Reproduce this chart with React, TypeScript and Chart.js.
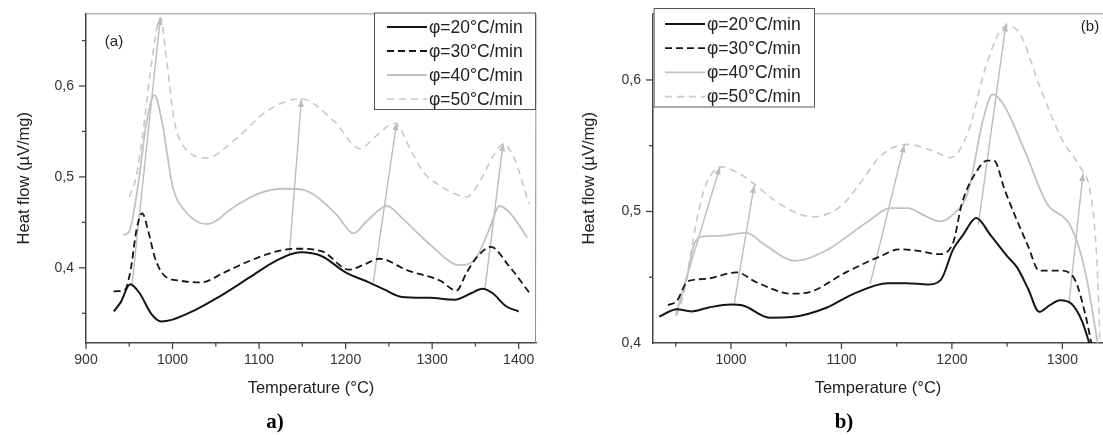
import React, { useEffect, useRef } from "react";
import { Chart, registerables } from "chart.js";

Chart.register(...registerables);

const FONT = "'Liberation Sans', Arial, Helvetica, sans-serif";

const seriesLabels = ["φ=20°C/min", "φ=30°C/min", "φ=40°C/min", "φ=50°C/min"];
const seriesColors = ["#151515", "#151515", "#c2c2c2", "#c8c8c8"];
const seriesDash: number[][] = [[], [7, 4], [], [7, 5]];
const seriesWidth = [2, 1.8, 1.8, 1.6];
const arrowColor = "#bcbcbc";

// ---------- Panel (a) ----------
const tA20 = [932, 940, 951, 962, 975, 987, 1000, 1025, 1050, 1090, 1120, 1148, 1172, 1200, 1227, 1245, 1265, 1297, 1326, 1345, 1358, 1370, 1385, 1400];
const vA20 = [0.352, 0.362, 0.382, 0.372, 0.35, 0.341, 0.343, 0.353, 0.366, 0.39, 0.408, 0.417, 0.413, 0.395, 0.384, 0.376, 0.368, 0.367, 0.365, 0.372, 0.377, 0.372, 0.358, 0.352];

const tA30 = [932, 945, 952, 958, 965, 972, 980, 990, 1008, 1033, 1060, 1090, 1120, 1145, 1173, 1204, 1220, 1239, 1272, 1309, 1328, 1340, 1352, 1368, 1388, 1412];
const vA30 = [0.374, 0.376, 0.4, 0.44, 0.46, 0.44, 0.41, 0.392, 0.386, 0.384, 0.395, 0.408, 0.418, 0.421, 0.418, 0.398, 0.403, 0.41, 0.397, 0.386, 0.375, 0.395, 0.412, 0.423, 0.403, 0.373];

const tA40 = [943, 950, 960, 970, 979, 988, 1000, 1015, 1040, 1071, 1100, 1129, 1150, 1167, 1190, 1209, 1225, 1248, 1265, 1297, 1332, 1350, 1365, 1378, 1392, 1410];
const vA40 = [0.436, 0.44, 0.49, 0.56, 0.59, 0.56, 0.49, 0.462, 0.448, 0.467, 0.482, 0.487, 0.486, 0.478, 0.458, 0.438, 0.452, 0.468, 0.455, 0.426, 0.403, 0.41, 0.44, 0.468, 0.458, 0.433];

const tA50 = [950, 958, 966, 975, 986, 993, 1002, 1017, 1040, 1071, 1110, 1148, 1186, 1217, 1235, 1257, 1275, 1290, 1310, 1325, 1340, 1355, 1370, 1382, 1395, 1412];
const vA50 = [0.478, 0.5, 0.55, 0.62, 0.675, 0.63, 0.562, 0.529, 0.521, 0.54, 0.573, 0.586, 0.562, 0.531, 0.545, 0.559, 0.53, 0.505, 0.49, 0.482, 0.478, 0.495, 0.522, 0.536, 0.52, 0.47];

const arrowA_t0 = [953, 1135, 1232, 1361];
const arrowA_v0 = [0.38, 0.415, 0.384, 0.377];
const arrowA_t1 = [986, 1149, 1259, 1382];
const arrowA_v1 = [0.676, 0.586, 0.56, 0.537];

// ---------- Panel (b) ----------
const tB20 = [935, 951, 964, 980, 1000, 1010, 1035, 1055, 1087, 1110, 1142, 1159, 1178, 1190, 1201, 1210, 1222, 1235, 1250, 1259, 1269, 1279, 1289, 1298, 1308, 1318, 1324, 1328];
const vB20 = [0.42, 0.4257, 0.424, 0.427, 0.4292, 0.4287, 0.4192, 0.4197, 0.427, 0.437, 0.4455, 0.4455, 0.4445, 0.448, 0.471, 0.482, 0.495, 0.482, 0.466, 0.4575, 0.4412, 0.4237, 0.429, 0.4325, 0.43, 0.4163, 0.401, 0.39];

const tB30 = [943, 951, 961, 977, 1005, 1023, 1055, 1071, 1104, 1136, 1152, 1170, 1188, 1201, 1209, 1222, 1232, 1238, 1248, 1258, 1269, 1279, 1298, 1311, 1321, 1326, 1330];
const vB30 = [0.4287, 0.432, 0.447, 0.4487, 0.4537, 0.4462, 0.4375, 0.4387, 0.4537, 0.4662, 0.4712, 0.47, 0.4675, 0.476, 0.506, 0.53, 0.5387, 0.5387, 0.516, 0.495, 0.4737, 0.455, 0.455, 0.4487, 0.421, 0.401, 0.385];

const tB40 = [950, 960, 967, 975, 990, 1014, 1030, 1058, 1088, 1105, 1125, 1144, 1160, 1175, 1189, 1200, 1215, 1228, 1237, 1247, 1267, 1286, 1306, 1316, 1323, 1329, 1333];
const vB40 = [0.421, 0.45, 0.476, 0.481, 0.4815, 0.4837, 0.475, 0.4625, 0.4712, 0.481, 0.493, 0.5025, 0.5025, 0.497, 0.4925, 0.497, 0.516, 0.569, 0.589, 0.581, 0.544, 0.506, 0.491, 0.47, 0.445, 0.415, 0.395];

const tB50 = [951, 958, 966, 975, 983, 991, 1005, 1021, 1037, 1054, 1073, 1090, 1102, 1120, 1134, 1148, 1160, 1183, 1199, 1215, 1231, 1249, 1261, 1280, 1299, 1316, 1324, 1329, 1332, 1334];
const vB50 = [0.421, 0.44, 0.48, 0.515, 0.529, 0.534, 0.53, 0.521, 0.51, 0.501, 0.496, 0.499, 0.506, 0.525, 0.541, 0.549, 0.551, 0.546, 0.541, 0.561, 0.611, 0.641, 0.636, 0.594, 0.556, 0.534, 0.52, 0.49, 0.45, 0.4];

const arrowB_t0 = [951, 1003, 1126, 1224, 1306];
const arrowB_v0 = [0.425, 0.43, 0.445, 0.49, 0.43];
const arrowB_t1 = [990, 1021, 1157, 1249, 1318.7];
const arrowB_v1 = [0.534, 0.52, 0.551, 0.643, 0.529];

const xTitle = "Temperature (°C)";
const yTitle = "Heat flow (µV/mg)";

const decorPlugin = {
  id: "decor",
  afterDraw(chart: any) {
    const o = chart.options.plugins.decor;
    const { ctx, chartArea: ca, scales } = chart;
    ctx.save();
    // top/right frame
    ctx.strokeStyle = "#8c8c8c";
    ctx.lineWidth = 1;
    ctx.beginPath();
    ctx.moveTo(ca.left, ca.top + 0.5);
    ctx.lineTo(ca.right, ca.top + 0.5);
    if (o.rightBorder) ctx.lineTo(ca.right - 0.5, ca.bottom);
    ctx.stroke();

    // tick marks
    ctx.strokeStyle = "#444";
    ctx.lineWidth = 1.3;
    scales.x.ticks.forEach((t: any) => {
      const px = scales.x.getPixelForValue(t.value);
      const major = Math.round(t.value) % 100 === 0;
      ctx.beginPath();
      ctx.moveTo(px, ca.bottom);
      ctx.lineTo(px, ca.bottom + (major ? 6 : 3.5));
      ctx.stroke();
    });
    scales.y.ticks.forEach((t: any) => {
      const py = scales.y.getPixelForValue(t.value);
      if (py < ca.top + 1 || py > ca.bottom - 0.5) return;
      const major = Math.round(t.value * 100) % 10 === 0;
      ctx.beginPath();
      ctx.moveTo(ca.left - (major ? 7 : 4), py);
      ctx.lineTo(ca.left, py);
      ctx.stroke();
    });

    // arrowheads
    chart.data.datasets.forEach((ds: any, i: number) => {
      if (!ds.isArrow) return;
      const meta = chart.getDatasetMeta(i);
      const p0 = meta.data[0];
      const p1 = meta.data[1];
      const ang = Math.atan2(p1.y - p0.y, p1.x - p0.x);
      const L = 8, W = 3;
      ctx.fillStyle = arrowColor;
      ctx.beginPath();
      ctx.moveTo(p1.x, p1.y);
      ctx.lineTo(p1.x - L * Math.cos(ang) + W * Math.sin(ang), p1.y - L * Math.sin(ang) - W * Math.cos(ang));
      ctx.lineTo(p1.x - L * Math.cos(ang) - W * Math.sin(ang), p1.y - L * Math.sin(ang) + W * Math.cos(ang));
      ctx.closePath();
      ctx.fill();
    });

    // legend
    const lg = o.legend;
    ctx.fillStyle = "#fff";
    ctx.fillRect(lg.x, lg.y, lg.w, lg.h);
    ctx.strokeStyle = "#555";
    ctx.lineWidth = 1;
    ctx.strokeRect(lg.x + 0.5, lg.y + 0.5, lg.w, lg.h);
    ctx.font = `${lg.fontSize}px ${FONT}`;
    ctx.textBaseline = "middle";
    ctx.textAlign = "left";
    seriesLabels.forEach((lab, i) => {
      const yy = lg.row0 + i * lg.rowGap;
      ctx.strokeStyle = seriesColors[i];
      ctx.lineWidth = seriesWidth[i];
      ctx.setLineDash(seriesDash[i]);
      ctx.beginPath();
      ctx.moveTo(lg.s0, yy);
      ctx.lineTo(lg.s1, yy);
      ctx.stroke();
      ctx.setLineDash([]);
      ctx.fillStyle = "#222";
      ctx.fillText(lab, lg.tx, yy + 1);
    });

    // panel tag
    ctx.font = `15px ${FONT}`;
    ctx.fillStyle = "#222";
    ctx.textAlign = "center";
    ctx.fillText(o.tag, o.tagX, o.tagY);
    ctx.restore();
  },
};

type Spec = {
  left: number; w: number; h: number;
  temps: number[][]; vals: number[][];
  at0: number[]; av0: number[]; at1: number[]; av1: number[];
  xmin: number; xmax: number; ymin: number; ymax: number;
  pad: { top: number; right: number; left: number; bottom: number };
  yWidth: number; yTitlePad: number;
  legend: any; tag: string; tagX: number; tagY: number; rightBorder: boolean;
};

function buildConfig(p: Spec): any {
  const curves = p.temps.map((ts, i) => ({
    label: seriesLabels[i],
    data: ts.map((t, j) => ({ x: t, y: p.vals[i][j] })),
    borderColor: seriesColors[i],
    borderDash: seriesDash[i],
    borderWidth: seriesWidth[i],
    pointRadius: 0,
    cubicInterpolationMode: "monotone",
    fill: false,
  }));
  const arrows = p.at0.map((t0, k) => ({
    label: "arrow",
    isArrow: true,
    data: [{ x: t0, y: p.av0[k] }, { x: p.at1[k], y: p.av1[k] }],
    borderColor: arrowColor,
    borderWidth: 1.4,
    pointRadius: 0,
    tension: 0,
    fill: false,
  }));
  const tickFont = { family: FONT, size: 14 };
  const titleFont = { family: FONT, size: 16.5 };
  return {
    type: "line",
    data: { datasets: [...curves, ...arrows] },
    plugins: [decorPlugin],
    options: {
      responsive: false,
      animation: false,
      devicePixelRatio: 1,
      events: [],
      layout: { padding: p.pad },
      plugins: {
        legend: { display: false },
        tooltip: { enabled: false },
        decor: { legend: p.legend, tag: p.tag, tagX: p.tagX, tagY: p.tagY, rightBorder: p.rightBorder },
      },
      scales: {
        x: {
          type: "linear",
          min: p.xmin,
          max: p.xmax,
          afterFit: (s: any) => { s.height = 92; },
          ticks: {
            stepSize: 50,
            includeBounds: false,
            autoSkip: false,
            maxRotation: 0,
            padding: 3,
            color: "#333",
            font: tickFont,
            callback: (v: number) => (Math.round(v) % 100 === 0 ? String(Math.round(v)) : ""),
          },
          grid: { display: true, drawOnChartArea: false, drawTicks: true, tickLength: 6, color: "rgba(0,0,0,0)" },
          border: { display: true, color: "#444", width: 1.5 },
          title: { display: true, text: xTitle, color: "#222", font: titleFont, padding: { top: 0, bottom: 37 } },
        },
        y: {
          type: "linear",
          min: p.ymin,
          max: p.ymax,
          afterFit: (s: any) => { s.width = p.yWidth; },
          ticks: {
            stepSize: 0.05,
            includeBounds: false,
            autoSkip: false,
            padding: 5,
            color: "#333",
            font: tickFont,
            callback: (v: number) => {
              const k = Math.round(v * 100);
              return k % 10 === 0 ? (k / 100).toFixed(1).replace(".", ",") : "";
            },
          },
          grid: { display: true, drawOnChartArea: false, drawTicks: true, tickLength: 7, color: "rgba(0,0,0,0)" },
          border: { display: true, color: "#444", width: 1.5 },
          title: { display: true, text: yTitle, color: "#222", font: titleFont, padding: { top: p.yTitlePad, bottom: 0 } },
        },
      },
    },
  };
}

const specA: Spec = {
  left: 0, w: 560, h: 435,
  temps: [tA20, tA30, tA40, tA50],
  vals: [vA20, vA30, vA40, vA50],
  at0: arrowA_t0, av0: arrowA_v0, at1: arrowA_t1, av1: arrowA_v1,
  xmin: 900, xmax: 1420, ymin: 0.3173, ymax: 0.6799,
  pad: { top: 13, right: 24, left: 0, bottom: 0 },
  yWidth: 86, yTitlePad: 14.6,
  legend: { x: 374, y: 12.5, w: 161, h: 96.5, row0: 27, rowGap: 24, s0: 387, s1: 427, tx: 429, fontSize: 17.5 },
  tag: "(a)", tagX: 114, tagY: 42, rightBorder: true,
};

const specB: Spec = {
  left: 560, w: 543, h: 435,
  temps: [tB20, tB30, tB40, tB50],
  vals: [vB20, vB30, vB40, vB50],
  at0: arrowB_t0, av0: arrowB_v0, at1: arrowB_t1, av1: arrowB_v1,
  xmin: 929.4, xmax: 1336.8, ymin: 0.4, ymax: 0.6506,
  pad: { top: 7.5, right: 0, left: 0, bottom: 0 },
  yWidth: 93, yTitlePad: 20,
  legend: { x: 93.6, y: 8, w: 160.4, h: 98.5, row0: 24, rowGap: 24.2, s0: 105, s1: 145, tx: 147, fontSize: 17.5 },
  tag: "(b)", tagX: 530, tagY: 27, rightBorder: false,
};

function Panel({ spec }: { spec: Spec }) {
  const ref = useRef<HTMLCanvasElement>(null);
  useEffect(() => {
    const chart = new Chart(ref.current as HTMLCanvasElement, buildConfig(spec));
    return () => chart.destroy();
  }, [spec]);
  return (
    <canvas
      ref={ref}
      width={spec.w}
      height={spec.h}
      style={{ position: "absolute", left: spec.left, top: 0, width: spec.w, height: spec.h }}
    />
  );
}

const captionStyle: React.CSSProperties = {
  position: "absolute",
  top: 410,
  width: 60,
  textAlign: "center",
  font: "bold 21px 'Liberation Serif', 'Times New Roman', serif",
  lineHeight: "22px",
  color: "#000",
};

export default function App() {
  return (
    <div style={{ position: "absolute", left: 0, top: 0, width: 1103, height: 435, background: "#fff", overflow: "hidden" }}>
      <Panel spec={specA} />
      <Panel spec={specB} />
      <div style={{ ...captionStyle, left: 275 - 30 }}>a)</div>
      <div style={{ ...captionStyle, left: 844 - 30 }}>b)</div>
    </div>
  );
}
